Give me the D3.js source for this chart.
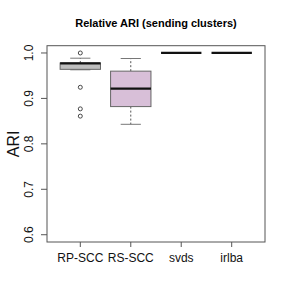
<!DOCTYPE html>
<html><head><meta charset="utf-8">
<script src="https://cdn.jsdelivr.net/npm/d3@7"></script>
<style>body{margin:0;background:#fff}svg{display:block}text{font-family:"Liberation Sans",Arial,sans-serif}</style>
</head><body>
<script>
const categories = ["RP-SCC","RS-SCC","svds","irlba"];
const lowerWhisker = [0.963, 0.843, 1.0, 1.0];
const q1 = [0.964, 0.882, 1.0, 1.0];
const medians = [0.977, 0.9216, 1.0, 1.0];
const q3 = [0.978, 0.960, 1.0, 1.0];
const upperWhisker = [0.9885, 0.9878, 1.0, 1.0];
const outliers = [[1.0, 0.9245, 0.877, 0.861], [], [], []];
const fills = ["#bebebe", "#d8bfd8", "#ffffff", "#ffffff"];
const yTicks = [0.6, 0.7, 0.8, 0.9, 1.0];

const W = 289, H = 300;
const L = 47, R = 265, T = 45.7, B = 242;
const svg = d3.select("body").append("svg").attr("width", W).attr("height", H);

const x = d3.scaleLinear().domain([0.34, 4.66]).range([L, R]);
const y = d3.scaleLinear().domain([0.584, 1.016]).range([B, T]);

// title
svg.append("text").attr("x", (L + R) / 2).attr("y", 26.5).attr("text-anchor", "middle")
  .attr("font-size", 11).attr("font-weight", "bold").text("Relative ARI (sending clusters)");

// boxes
const bw = 0.8;
categories.forEach((c, i) => {
  const cx = x(i + 1);
  const g = svg.append("g");
  const hw = (x(bw / 2) - x(0));
  if (q3[i] > q1[i]) {
    g.append("line").attr("x1", cx).attr("x2", cx).attr("y1", y(q3[i])).attr("y2", y(upperWhisker[i]))
      .attr("stroke", "#555").attr("stroke-dasharray", "2,2");
    g.append("line").attr("x1", cx).attr("x2", cx).attr("y1", y(q1[i])).attr("y2", y(lowerWhisker[i]))
      .attr("stroke", "#555").attr("stroke-dasharray", "2,2");
    const capw = hw / 2;
    [upperWhisker[i], lowerWhisker[i]].forEach(v => {
      g.append("line").attr("x1", cx - capw).attr("x2", cx + capw).attr("y1", y(v)).attr("y2", y(v))
        .attr("stroke", "#777");
    });
    g.append("rect").attr("x", cx - hw).attr("width", 2 * hw)
      .attr("y", y(q3[i])).attr("height", y(q1[i]) - y(q3[i]))
      .attr("fill", fills[i]).attr("stroke", "#666");
  }
  g.append("line").attr("x1", cx - hw).attr("x2", cx + hw).attr("y1", y(medians[i])).attr("y2", y(medians[i]))
    .attr("stroke", "#111").attr("stroke-width", 2.2);
  outliers[i].forEach(v => {
    g.append("circle").attr("cx", cx).attr("cy", y(v)).attr("r", 2).attr("fill", "none").attr("stroke", "#333").attr("stroke-width", 0.9);
  });
});

// frame
svg.append("rect").attr("x", L).attr("y", T).attr("width", R - L).attr("height", B - T)
  .attr("fill", "none").attr("stroke", "#555");

// y axis ticks
yTicks.forEach(t => {
  svg.append("line").attr("x1", L - 6).attr("x2", L).attr("y1", y(t)).attr("y2", y(t)).attr("stroke", "#555");
  svg.append("text").attr("transform", `translate(${32.5},${y(t)}) rotate(-90)`)
    .attr("text-anchor", "middle").attr("font-size", 12).attr("fill", "#111").text(t.toFixed(1));
});
// x axis ticks
categories.forEach((c, i) => {
  const cx = x(i + 1);
  svg.append("line").attr("x1", cx).attr("x2", cx).attr("y1", B).attr("y2", B + 5).attr("stroke", "#555");
  svg.append("text").attr("x", cx).attr("y", 262).attr("text-anchor", "middle")
    .attr("font-size", 12).attr("fill", "#111").text(c);
});
// y label
svg.append("text").attr("transform", `translate(19,${(T + B) / 2}) rotate(-90)`)
  .attr("text-anchor", "middle").attr("font-size", 16).attr("fill", "#111").text("ARI");
</script>
</body></html>
